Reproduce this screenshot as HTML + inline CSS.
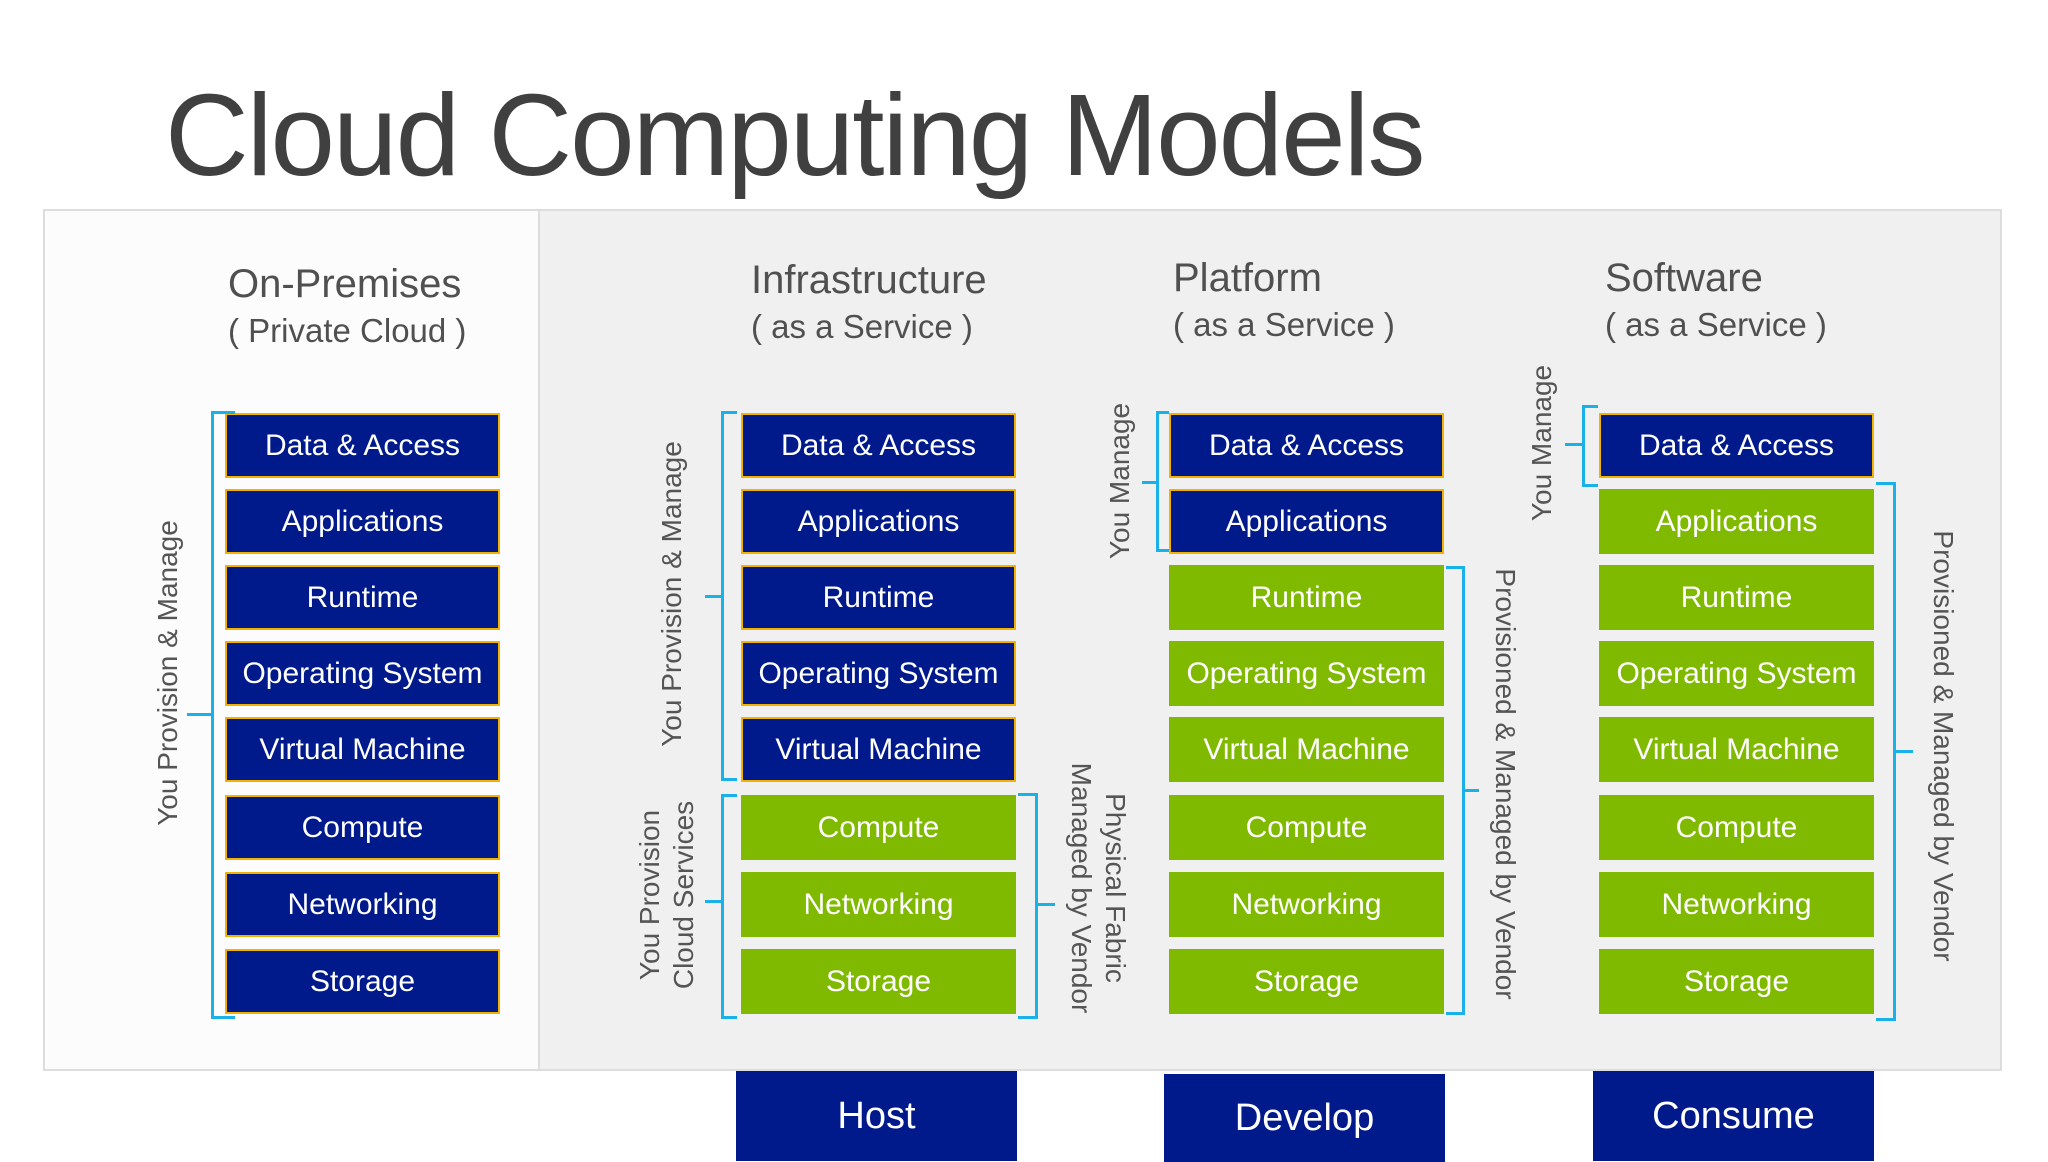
<!DOCTYPE html>
<html><head><meta charset="utf-8"><style>
body{margin:0;width:2048px;height:1152px;background:#fff;position:relative;overflow:hidden;font-family:"Liberation Sans",sans-serif;}
.a{position:absolute}
.title{left:165px;top:68px;font-size:116px;color:#404040;letter-spacing:-2px;white-space:nowrap}
.h1{font-size:40px;color:#505050;white-space:nowrap}
.h2{font-size:33px;color:#505050;white-space:nowrap}
.b{position:absolute;width:275px;height:65px;box-sizing:border-box;color:#fff;font-size:30px;display:flex;align-items:center;justify-content:center;white-space:nowrap}
.n{background:#001a8c;border:2px solid #f2b200}
.g{background:#7fba00}
.ln{position:absolute;background:#1ab0e8}
.lbl{position:absolute;font-size:28px;color:#555;white-space:nowrap;text-align:center;line-height:34px}
.bot{position:absolute;background:#001a8c;color:#fff;font-size:38px;display:flex;align-items:center;justify-content:center;height:90px;width:281px}
</style></head><body>
<div class="a title">Cloud Computing Models</div>
<div class="a" style="left:43px;top:209px;width:1959px;height:862px;border:2px solid #ddd;box-sizing:border-box;background:#f0f0f0"></div>
<div class="a" style="left:45px;top:211px;width:493px;height:858px;background:#fcfcfc;border-right:2px solid #ddd"></div>

<div class="a h1" style="left:228px;top:262px">On-Premises</div>
<div class="a h2" style="left:228px;top:312px">( Private Cloud )</div>
<div class="a h1" style="left:751px;top:258px">Infrastructure</div>
<div class="a h2" style="left:751px;top:308px">( as a Service )</div>
<div class="a h1" style="left:1173px;top:256px">Platform</div>
<div class="a h2" style="left:1173px;top:306px">( as a Service )</div>
<div class="a h1" style="left:1605px;top:256px">Software</div>
<div class="a h2" style="left:1605px;top:306px">( as a Service )</div>

<!-- On-prem -->
<div class="b n" style="left:225px;top:413px">Data &amp; Access</div>
<div class="b n" style="left:225px;top:489px">Applications</div>
<div class="b n" style="left:225px;top:565px">Runtime</div>
<div class="b n" style="left:225px;top:641px">Operating System</div>
<div class="b n" style="left:225px;top:717px">Virtual Machine</div>
<div class="b n" style="left:225px;top:795px">Compute</div>
<div class="b n" style="left:225px;top:872px">Networking</div>
<div class="b n" style="left:225px;top:949px">Storage</div>
<!-- IaaS -->
<div class="b n" style="left:741px;top:413px">Data &amp; Access</div>
<div class="b n" style="left:741px;top:489px">Applications</div>
<div class="b n" style="left:741px;top:565px">Runtime</div>
<div class="b n" style="left:741px;top:641px">Operating System</div>
<div class="b n" style="left:741px;top:717px">Virtual Machine</div>
<div class="b g" style="left:741px;top:795px">Compute</div>
<div class="b g" style="left:741px;top:872px">Networking</div>
<div class="b g" style="left:741px;top:949px">Storage</div>
<!-- PaaS -->
<div class="b n" style="left:1169px;top:413px">Data &amp; Access</div>
<div class="b n" style="left:1169px;top:489px">Applications</div>
<div class="b g" style="left:1169px;top:565px">Runtime</div>
<div class="b g" style="left:1169px;top:641px">Operating System</div>
<div class="b g" style="left:1169px;top:717px">Virtual Machine</div>
<div class="b g" style="left:1169px;top:795px">Compute</div>
<div class="b g" style="left:1169px;top:872px">Networking</div>
<div class="b g" style="left:1169px;top:949px">Storage</div>
<!-- SaaS -->
<div class="b n" style="left:1599px;top:413px">Data &amp; Access</div>
<div class="b g" style="left:1599px;top:489px">Applications</div>
<div class="b g" style="left:1599px;top:565px">Runtime</div>
<div class="b g" style="left:1599px;top:641px">Operating System</div>
<div class="b g" style="left:1599px;top:717px">Virtual Machine</div>
<div class="b g" style="left:1599px;top:795px">Compute</div>
<div class="b g" style="left:1599px;top:872px">Networking</div>
<div class="b g" style="left:1599px;top:949px">Storage</div>

<!-- brackets -->
<!-- on-prem -->
<div class="ln" style="left:211px;top:411px;width:3px;height:608px"></div>
<div class="ln" style="left:211px;top:411px;width:24px;height:3px"></div>
<div class="ln" style="left:211px;top:1016px;width:24px;height:3px"></div>
<div class="ln" style="left:187px;top:713px;width:26px;height:3px"></div>
<div class="lbl" style="left:168px;top:673px;transform:translate(-50%,-50%) rotate(-90deg)">You Provision &amp; Manage</div>
<!-- iaas upper -->
<div class="ln" style="left:721px;top:411px;width:3px;height:370px"></div>
<div class="ln" style="left:721px;top:411px;width:16px;height:3px"></div>
<div class="ln" style="left:721px;top:778px;width:16px;height:3px"></div>
<div class="ln" style="left:705px;top:595px;width:18px;height:3px"></div>
<div class="lbl" style="left:672px;top:594px;transform:translate(-50%,-50%) rotate(-90deg)">You Provision &amp; Manage</div>
<!-- iaas lower -->
<div class="ln" style="left:721px;top:794px;width:3px;height:225px"></div>
<div class="ln" style="left:721px;top:794px;width:16px;height:3px"></div>
<div class="ln" style="left:721px;top:1016px;width:16px;height:3px"></div>
<div class="ln" style="left:705px;top:900px;width:18px;height:3px"></div>
<div class="lbl" style="left:667px;top:895px;transform:translate(-50%,-50%) rotate(-90deg)">You Provision<br>Cloud Services</div>
<!-- iaas right -->
<div class="ln" style="left:1035px;top:793px;width:3px;height:226px"></div>
<div class="ln" style="left:1018px;top:793px;width:19px;height:3px"></div>
<div class="ln" style="left:1018px;top:1016px;width:19px;height:3px"></div>
<div class="ln" style="left:1036px;top:903px;width:19px;height:3px"></div>
<div class="lbl" style="left:1098px;top:888px;transform:translate(-50%,-50%) rotate(90deg)">Physical Fabric<br>Managed by Vendor</div>
<!-- paas left -->
<div class="ln" style="left:1156px;top:411px;width:3px;height:141px"></div>
<div class="ln" style="left:1156px;top:411px;width:13px;height:3px"></div>
<div class="ln" style="left:1156px;top:549px;width:13px;height:3px"></div>
<div class="ln" style="left:1142px;top:481px;width:16px;height:3px"></div>
<div class="lbl" style="left:1120px;top:481px;transform:translate(-50%,-50%) rotate(-90deg)">You Manage</div>
<!-- paas right -->
<div class="ln" style="left:1462px;top:566px;width:3px;height:449px"></div>
<div class="ln" style="left:1446px;top:566px;width:18px;height:3px"></div>
<div class="ln" style="left:1446px;top:1012px;width:18px;height:3px"></div>
<div class="ln" style="left:1463px;top:789px;width:16px;height:3px"></div>
<div class="lbl" style="left:1505px;top:784px;transform:translate(-50%,-50%) rotate(90deg)">Provisioned &amp; Managed by Vendor</div>
<!-- saas left -->
<div class="ln" style="left:1582px;top:405px;width:3px;height:82px"></div>
<div class="ln" style="left:1582px;top:405px;width:16px;height:3px"></div>
<div class="ln" style="left:1582px;top:484px;width:16px;height:3px"></div>
<div class="ln" style="left:1565px;top:443px;width:18px;height:3px"></div>
<div class="lbl" style="left:1542px;top:443px;transform:translate(-50%,-50%) rotate(-90deg)">You Manage</div>
<!-- saas right -->
<div class="ln" style="left:1893px;top:482px;width:3px;height:539px"></div>
<div class="ln" style="left:1876px;top:482px;width:19px;height:3px"></div>
<div class="ln" style="left:1876px;top:1018px;width:19px;height:3px"></div>
<div class="ln" style="left:1894px;top:750px;width:19px;height:3px"></div>
<div class="lbl" style="left:1943px;top:746px;transform:translate(-50%,-50%) rotate(90deg)">Provisioned &amp; Managed by Vendor</div>

<div class="bot" style="left:736px;top:1071px">Host</div>
<div class="bot" style="left:1164px;top:1074px;height:88px">Develop</div>
<div class="bot" style="left:1593px;top:1071px">Consume</div>
</body></html>
